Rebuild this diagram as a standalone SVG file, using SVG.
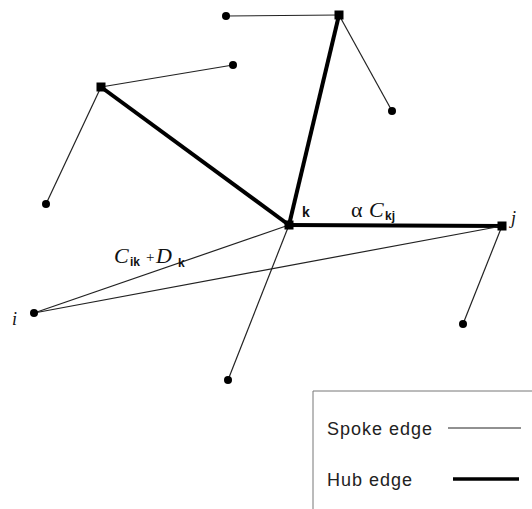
<svg xmlns="http://www.w3.org/2000/svg" width="532" height="509" viewBox="0 0 532 509">
<style>
.spoke{stroke:#222;stroke-width:1.2;fill:none}
.hub{stroke:#000;stroke-width:4;fill:none}
.sn{fill:#000}
.hn{fill:#000}
.lbl{font-family:"Liberation Serif",serif;fill:#111}
.sub{font-family:"Liberation Sans",Arial,sans-serif;font-weight:bold;font-size:12px}
.leg{font-family:"Liberation Sans",Arial,sans-serif;font-size:18px;letter-spacing:1px;fill:#222}
</style>
<rect width="532" height="509" fill="#fff"/>
<g id="connectors">
<line class="spoke" x1="226" y1="16" x2="339" y2="15"/>
<line class="spoke" x1="339" y1="15" x2="392" y2="111"/>
<line class="hub" x1="339" y1="15" x2="289" y2="225"/>
<line class="spoke" x1="101" y1="87" x2="233" y2="65"/>
<line class="spoke" x1="101" y1="87" x2="46" y2="204"/>
<line class="hub" x1="101" y1="87" x2="289" y2="225"/>
<line class="hub" x1="289" y1="225" x2="502" y2="226"/>
<line class="spoke" x1="289" y1="225" x2="34" y2="313"/>
<line class="spoke" x1="502" y1="226" x2="34" y2="313"/>
<line class="spoke" x1="289" y1="225" x2="228" y2="380"/>
<line class="spoke" x1="502" y1="226" x2="463" y2="324"/>
</g>
<g id="hub-k"><rect class="hn" x="284.5" y="220.5" width="9" height="9"/><text x="302" y="217" style="font-family:'Liberation Sans',sans-serif;font-weight:bold;font-size:14px;fill:#111">k</text></g>
<g id="hub-j"><rect class="hn" x="497.5" y="221.5" width="9" height="9"/><text class="lbl" x="511" y="224" font-size="18" font-style="italic">j</text></g>
<g id="hub-top"><rect class="hn" x="334.5" y="10.5" width="9" height="9"/></g>
<g id="hub-left"><rect class="hn" x="96.5" y="82.5" width="9" height="9"/></g>
<g id="spoke-1"><circle class="sn" cx="226" cy="16" r="4"/></g>
<g id="spoke-2"><circle class="sn" cx="233" cy="65" r="4"/></g>
<g id="spoke-3"><circle class="sn" cx="392" cy="111" r="4"/></g>
<g id="spoke-4"><circle class="sn" cx="46" cy="204" r="4"/></g>
<g id="spoke-i"><circle class="sn" cx="34" cy="313" r="4"/><text class="lbl" x="12" y="325" font-size="18" font-style="italic">i</text></g>
<g id="spoke-5"><circle class="sn" cx="463" cy="324" r="4"/></g>
<g id="spoke-6"><circle class="sn" cx="228" cy="380" r="4"/></g>
<g id="label-akj"><text class="lbl" y="217" font-size="22"><tspan x="351">α</tspan><tspan x="369" font-style="italic">C</tspan><tspan class="sub" x="385" y="220">kj</tspan></text></g>
<g id="label-cik"><text class="lbl" y="263" font-size="22"><tspan x="114" font-style="italic">C</tspan><tspan class="sub" x="130" y="266">ik</tspan><tspan x="146" y="262" font-size="15">+</tspan><tspan x="156" y="263" font-style="italic">D</tspan><tspan class="sub" x="178" y="267">k</tspan></text></g>
<g id="legend">
<polyline points="313,509 313,391 532,391" fill="none" stroke="#777" stroke-width="1"/>
<text class="leg" x="327" y="435">Spoke edge</text>
<line x1="448" y1="428" x2="521" y2="428" stroke="#222" stroke-width="1"/>
<text class="leg" x="327" y="486">Hub edge</text>
<line x1="453" y1="479" x2="519" y2="479" stroke="#000" stroke-width="3.5"/>
</g>
</svg>
